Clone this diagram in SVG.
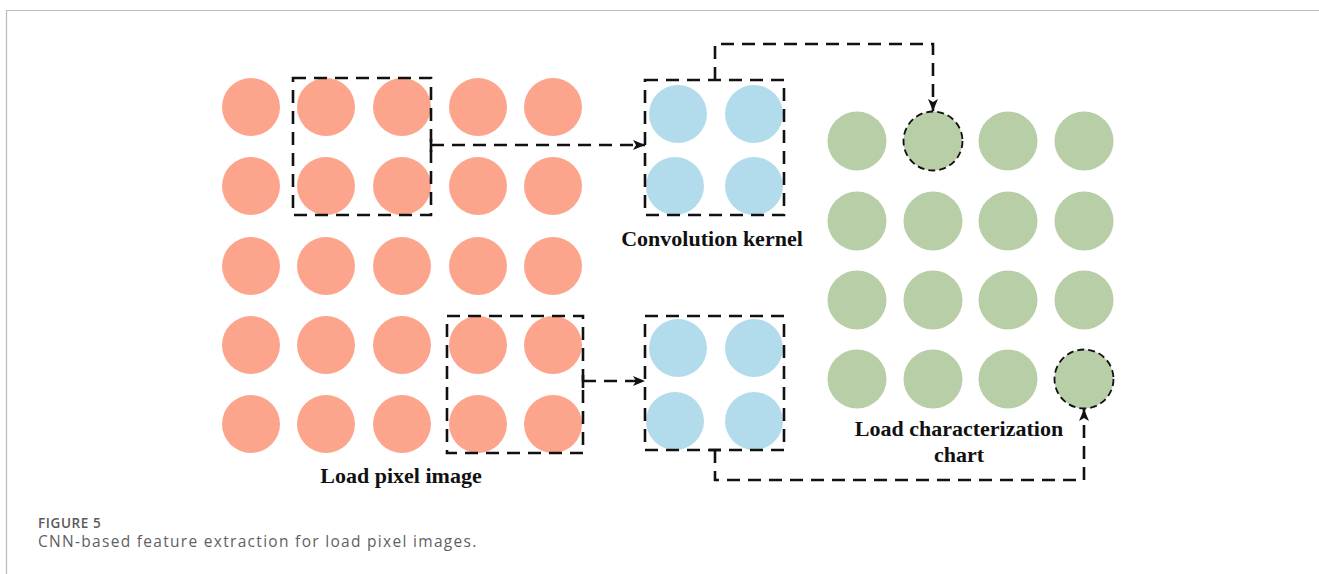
<svg xmlns="http://www.w3.org/2000/svg" width="1319" height="574" viewBox="0 0 1319 574">
  <style>
    .px { fill: #FDA48C; }
    .kn { fill: #B2DCEC; }
    .ft { fill: #B7CEA6; }
    .win { fill: none; stroke: #111; stroke-width: 2.6; stroke-dasharray: 13 8; }
    .hit { fill: none; stroke: #111; stroke-width: 1.8; stroke-dasharray: 7 4; }
    .link { fill: none; stroke: #111; stroke-width: 2.6; stroke-dasharray: 13 8; }
    .tick { stroke: #111; stroke-width: 2.6; }
    .lbl { font-family: "Liberation Serif", "Times New Roman", serif; font-weight: bold; font-size: 22px; fill: #111; text-anchor: middle; }
    .cap-h { font-family: "Open Sans", "Noto Sans", sans-serif; font-weight: 600; font-size: 13.5px; letter-spacing: 0.6px; fill: #5a5a5a; }
    .cap { font-family: "Open Sans", "Noto Sans", sans-serif; font-weight: 400; font-size: 15.5px; letter-spacing: 1.3px; fill: #5f5f5f; }
  </style>
  <defs>
    <marker id="arrow" viewBox="0 0 12 10" refX="12" refY="5" markerWidth="12" markerHeight="10" markerUnits="userSpaceOnUse" orient="auto">
      <path d="M0,0 L12,5 L0,10 L3,5 z" fill="#111"/>
    </marker>
  </defs>

  <rect width="1319" height="574" fill="#fff"/>
  <!-- figure frame -->
  <path d="M6.5,574 V10.5 H1319" fill="none" stroke="#bbb" stroke-width="1.2"/>

  <!-- input image: 5x5 pixel grid -->
  <g id="pixel-image">
    <g class="px">
      <circle cx="251" cy="107" r="29"/><circle cx="326" cy="107" r="29"/><circle cx="402" cy="107" r="29"/><circle cx="478" cy="107" r="29"/><circle cx="553" cy="107" r="29"/>
      <circle cx="251" cy="186" r="29"/><circle cx="326" cy="186" r="29"/><circle cx="402" cy="186" r="29"/><circle cx="478" cy="186" r="29"/><circle cx="553" cy="186" r="29"/>
      <circle cx="251" cy="266" r="29"/><circle cx="326" cy="266" r="29"/><circle cx="402" cy="266" r="29"/><circle cx="478" cy="266" r="29"/><circle cx="553" cy="266" r="29"/>
      <circle cx="251" cy="345" r="29"/><circle cx="326" cy="345" r="29"/><circle cx="402" cy="345" r="29"/><circle cx="478" cy="345" r="29"/><circle cx="553" cy="345" r="29"/>
      <circle cx="251" cy="424" r="29"/><circle cx="326" cy="424" r="29"/><circle cx="402" cy="424" r="29"/><circle cx="478" cy="424" r="29"/><circle cx="553" cy="424" r="29"/>
    </g>
    <rect class="win" x="293" y="78" width="138" height="137"/>
    <rect class="win" x="447" y="316" width="136" height="137"/>
    <text class="lbl" x="401" y="483">Load pixel image</text>
  </g>

  <!-- first kernel position -->
  <g id="kernel-top">
    <g class="kn">
      <circle cx="678" cy="114" r="29"/><circle cx="754" cy="114" r="29"/>
      <circle cx="675" cy="186" r="29"/><circle cx="754" cy="186" r="29"/>
    </g>
    <rect class="win" x="645" y="80" width="139" height="135"/>
    <text class="lbl" x="712" y="246">Convolution kernel</text>
  </g>

  <!-- second kernel position -->
  <g id="kernel-bottom">
    <g class="kn">
      <circle cx="678" cy="348" r="29"/><circle cx="754" cy="348" r="29"/>
      <circle cx="675" cy="421" r="29"/><circle cx="754" cy="421" r="29"/>
    </g>
    <rect class="win" x="645" y="316" width="139" height="134"/>
  </g>

  <!-- output feature map: 4x4 -->
  <g id="feature-map">
    <g class="ft">
      <circle cx="857" cy="141" r="29.5"/><circle cx="933" cy="141" r="29.5"/><circle cx="1008" cy="141" r="29.5"/><circle cx="1084" cy="141" r="29.5"/>
      <circle cx="857" cy="221" r="29.5"/><circle cx="933" cy="221" r="29.5"/><circle cx="1008" cy="221" r="29.5"/><circle cx="1084" cy="221" r="29.5"/>
      <circle cx="857" cy="300" r="29.5"/><circle cx="933" cy="300" r="29.5"/><circle cx="1008" cy="300" r="29.5"/><circle cx="1084" cy="300" r="29.5"/>
      <circle cx="857" cy="379" r="29.5"/><circle cx="933" cy="379" r="29.5"/><circle cx="1008" cy="379" r="29.5"/><circle cx="1084" cy="379" r="29.5"/>
    </g>
    <circle class="hit" cx="933" cy="141" r="29.5"/>
    <circle class="hit" cx="1084" cy="379" r="29.5"/>
    <text class="lbl" x="959" y="436">Load characterization</text>
    <text class="lbl" x="959" y="462">chart</text>
  </g>

  <!-- connectors -->
  <g id="connectors">
    <line class="tick" x1="431" y1="139" x2="431" y2="152"/>
    <path class="link" d="M431,145 H645" marker-end="url(#arrow)"/>
    <line class="tick" x1="583" y1="375" x2="583" y2="388"/>
    <path class="link" d="M583,381 H645" marker-end="url(#arrow)"/>
    <path class="link" d="M715,80 V44 H933 V111" marker-end="url(#arrow)"/>
    <line class="tick" x1="709" y1="450" x2="721" y2="450"/>
    <path class="link" d="M715,450 V480 H1084 V409" marker-end="url(#arrow)"/>
  </g>

  <!-- caption -->
  <g id="caption">
    <text class="cap-h" x="38" y="528">FIGURE 5</text>
    <text class="cap" x="38" y="547">CNN-based feature extraction for load pixel images.</text>
  </g>
</svg>
